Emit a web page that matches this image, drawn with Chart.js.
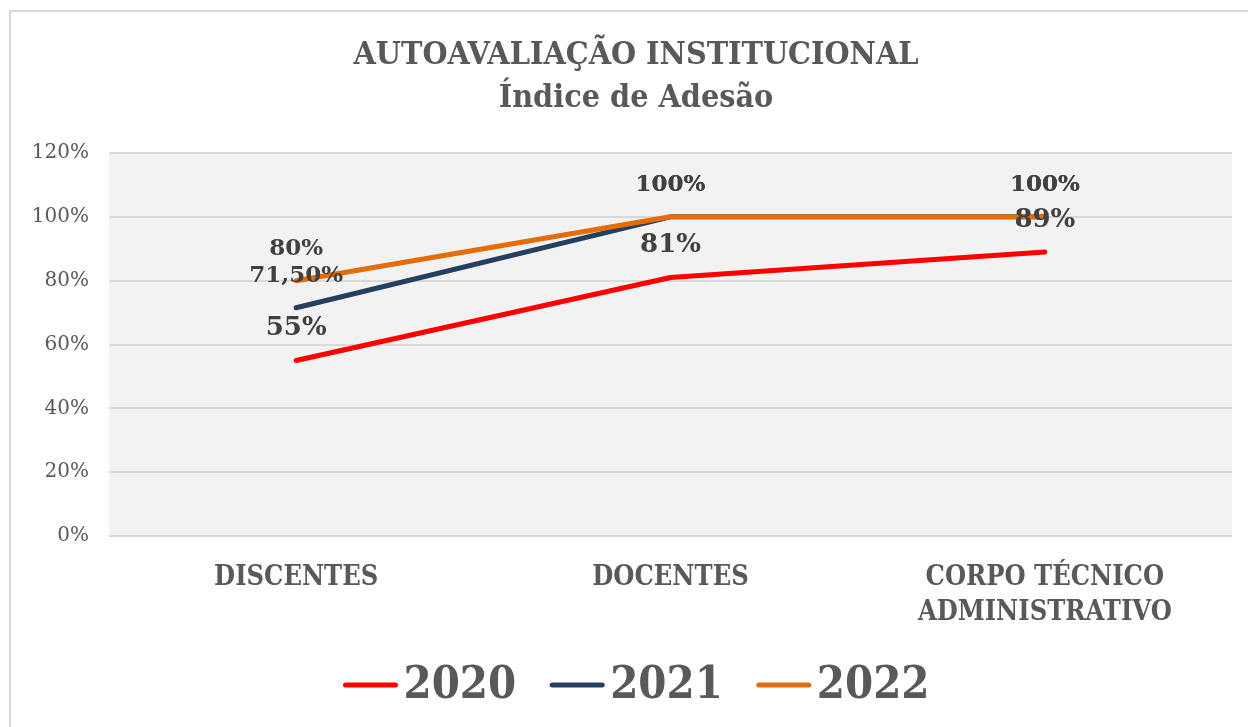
<!DOCTYPE html>
<html>
<head>
<meta charset="utf-8">
<script src="https://cdn.jsdelivr.net/npm/chart.js@4.4.1/dist/chart.umd.min.js"></script>
<style>
  html, body { margin: 0; padding: 0; background: #fff; }
  #wrap { width: 1248px; height: 727px; }
</style>
</head>
<body>
<div id="wrap"><canvas id="chart" width="1248" height="727"></canvas></div>
<script>
// data
const categories = ["DISCENTES", "DOCENTES", ["CORPO TÉCNICO", "ADMINISTRATIVO"]];
const years = ["2020", "2021", "2022"];
const adesao2020 = [55, 81, 89];
const adesao2021 = [71.5, 100, 100];
const adesao2022 = [80, 100, 100];
const yTicks = [0, 20, 40, 60, 80, 100, 120];
const titleLines = ["AUTOAVALIAÇÃO INSTITUCIONAL", "Índice de Adesão"];

const serif = "'DejaVu Serif', serif";
const serifCond = "'DejaVu Serif Condensed', 'DejaVu Serif', serif";
const textGray = "#595959";
const centerX = 636; // the excel chart is a bit wider than the crop

function pct(v) {
  return Number.isInteger(v) ? v + "%" : v.toFixed(2).replace(".", ",") + "%";
}

// gray plot background + outer frame + title
const background = {
  id: "background",
  beforeDraw(chart) {
    const { ctx, chartArea: a } = chart;
    ctx.save();
    ctx.fillStyle = "#ffffff";
    ctx.fillRect(0, 0, chart.width, chart.height);
    ctx.strokeStyle = "#d9d9d9";
    ctx.lineWidth = 2;
    ctx.strokeRect(10, 11, chart.width + 20, chart.height + 20);
    ctx.fillStyle = "#f2f2f2";
    ctx.fillRect(a.left, a.top, a.right - a.left, a.bottom - a.top);

    ctx.fillStyle = textGray;
    ctx.textAlign = "center";
    ctx.textBaseline = "middle";
    ctx.font = "bold 32px " + serifCond;
    titleLines.forEach((t, i) => ctx.fillText(t, centerX, 56 + i * 43));
    ctx.restore();
  }
};

// value labels above each point
const valueLabels = {
  id: "valueLabels",
  afterDatasetsDraw(chart) {
    const ctx = chart.ctx;
    ctx.save();
    ctx.textAlign = "center";
    ctx.textBaseline = "middle";
    ctx.fillStyle = "#404040";
    chart.data.datasets.forEach((ds, i) => {
      const meta = chart.getDatasetMeta(i);
      ctx.font = "bold " + ds.labelSize + "px " + serif;
      meta.data.forEach((pt, j) => {
        ctx.fillText(pct(ds.data[j]), pt.x, pt.y - 32);
      });
    });
    ctx.restore();
  }
};

// legend: short thick line + year, centered at the bottom
const bottomLegend = {
  id: "bottomLegend",
  afterDraw(chart) {
    const ctx = chart.ctx;
    const lineLen = 56, gap = 5, itemGap = 33, y = 685;
    ctx.save();
    ctx.font = "bold 45px " + serifCond;
    const widths = chart.data.datasets.map(ds => lineLen + gap + ctx.measureText(ds.label).width);
    const total = widths.reduce((a, b) => a + b, 0) + itemGap * (widths.length - 1);
    let x = centerX - total / 2;
    ctx.textBaseline = "middle";
    ctx.textAlign = "left";
    chart.data.datasets.forEach((ds, i) => {
      ctx.strokeStyle = ds.borderColor;
      ctx.lineWidth = 5;
      ctx.lineCap = "round";
      ctx.beginPath();
      ctx.moveTo(x + 3, y);
      ctx.lineTo(x + lineLen - 3, y);
      ctx.stroke();
      ctx.fillStyle = textGray;
      ctx.fillText(ds.label, x + lineLen + gap, y + 1);
      x += widths[i] + itemGap;
    });
    ctx.restore();
  }
};

new Chart(document.getElementById("chart"), {
  type: "line",
  data: {
    labels: categories,
    datasets: [
      { label: years[0], data: adesao2020, borderColor: "#ff0000", backgroundColor: "#ff0000", order: 2, labelSize: 26 },
      { label: years[1], data: adesao2021, borderColor: "#243f60", backgroundColor: "#243f60", order: 1, labelSize: 23 },
      { label: years[2], data: adesao2022, borderColor: "#e46c0a", backgroundColor: "#e46c0a", order: 0, labelSize: 23 }
    ]
  },
  options: {
    responsive: false,
    animation: false,
    layout: { padding: { left: 10, right: 16, top: 153, bottom: 72 } },
    elements: {
      line: { borderWidth: 5, tension: 0, borderCapStyle: "round", borderJoinStyle: "round" },
      point: { radius: 0, hoverRadius: 0 }
    },
    plugins: {
      title: { display: false },
      legend: { display: false },
      tooltip: { enabled: false }
    },
    scales: {
      x: {
        offset: true,
        grid: { display: false, drawTicks: false },
        border: { display: false },
        ticks: {
          color: textGray,
          padding: 25,
          maxRotation: 0,
          font: { family: serifCond, size: 27, weight: "bold", lineHeight: 1.28 }
        },
        afterFit(scale) { scale.height = 119; }
      },
      y: {
        min: 0,
        max: 120,
        afterBuildTicks(scale) { scale.ticks = yTicks.map(v => ({ value: v })); },
        grid: { color: "#d9d9d9", lineWidth: 2, drawTicks: false },
        border: { display: false },
        ticks: {
          color: textGray,
          padding: 20,
          font: { family: serif, size: 20 },
          callback: v => v + "%"
        },
        afterFit(scale) { scale.width = 99; }
      }
    }
  },
  plugins: [background, valueLabels, bottomLegend]
});
</script>
</body>
</html>
